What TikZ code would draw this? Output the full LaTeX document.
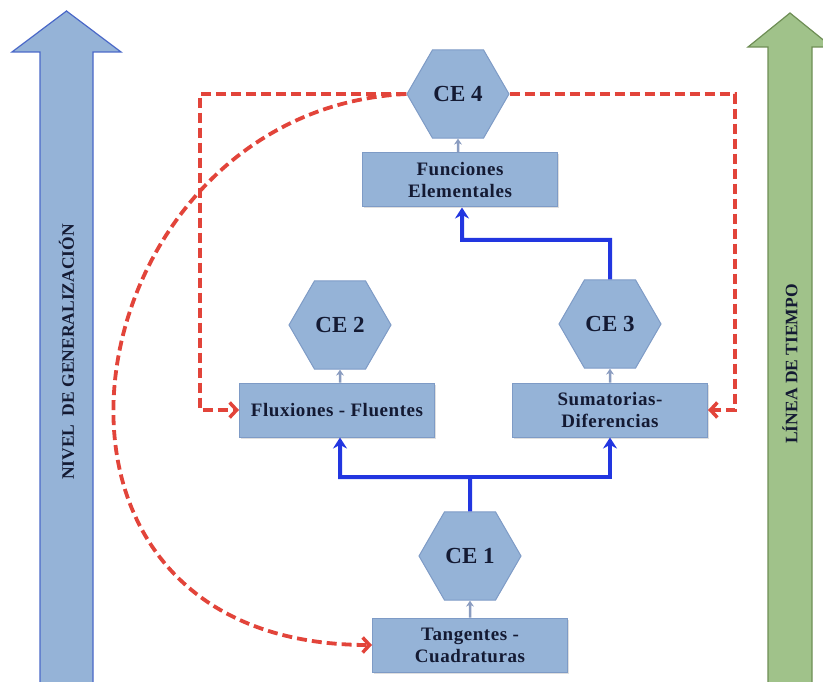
\documentclass[tikz,border=0pt]{standalone}
\usepackage{fontspec}
\setmainfont{Liberation Serif}
\newfontfamily\boxfont[LetterSpace=3]{Liberation Serif}
\usetikzlibrary{arrows.meta,shapes.geometric,calc,shadows}
\definecolor{boxfill}{HTML}{95B3D7}
\definecolor{boxline}{HTML}{7E9BC6}
\definecolor{conblue}{HTML}{2236E0}
\definecolor{conred}{HTML}{E2443A}
\definecolor{greyarrow}{HTML}{8A9CC0}
\definecolor{bigblue}{HTML}{95B3D7}
\definecolor{bigblueline}{HTML}{4A68C8}
\definecolor{biggreen}{HTML}{A0C28A}
\definecolor{biggreenline}{HTML}{6E8E55}
\definecolor{txt}{HTML}{141A33}
\begin{document}
\begin{tikzpicture}[x=1pt,y=-1pt,
  conbox/.style={draw=boxline, line width=1pt, fill=boxfill, minimum width=195pt, minimum height=54pt,
    inner sep=0pt, align=center, font=\boxfont\fontsize{19}{22}\selectfont\bfseries, text=txt,
    drop shadow={shadow xshift=1.5pt, shadow yshift=-1.5pt, opacity=0.25}},
  hexa/.style={regular polygon, regular polygon sides=6, minimum size=102pt, inner sep=0pt,
    draw=boxline, line width=1pt, fill=boxfill, font=\fontsize{23}{26}\selectfont\bfseries, text=txt},
  bl/.style={draw=conblue, line width=4pt, -{Stealth[length=11pt,width=14pt]}},
  rd/.style={draw=conred, line width=3.8pt, dash pattern=on 10pt off 5pt, -{Straight Barb[length=7pt,width=15pt,line width=3.5pt]}},
  gr/.style={draw=greyarrow, line width=2.5pt, -{Stealth[length=6pt,width=8pt]}},
  sidelbl/.style={rotate=90, font=\fontsize{17.5}{20}\selectfont\bfseries, text=txt, inner sep=0pt}
]
\clip (0,0) rectangle (823,682);

% side arrows
\fill[bigblue] (40,690) -- (40,52) -- (12,52) -- (66.5,11) -- (121,52) -- (93,52) -- (93,690) -- cycle;
\draw[bigblueline, line width=1.2pt, line join=miter] (40,690) -- (40,52) -- (12,52) -- (66.5,11) -- (121,52) -- (93,52) -- (93,690);
\fill[biggreen] (768,690) -- (768,47) -- (748,47) -- (790,13) -- (832,47) -- (812,47) -- (812,690) -- cycle;
\draw[biggreenline, line width=1.2pt] (768,690) -- (768,47) -- (748,47) -- (790,13) -- (832,47) -- (812,47) -- (812,690);
\node[sidelbl] (nivel) at (66.5,352) {NIVEL\hspace{4pt} DE GENERALIZACIÓN};
\node[sidelbl] (linea) at (790,364) {LÍNEA DE TIEMPO};

% nodes
\node[hexa] (CE4) at (458,94) {CE 4};
\node[conbox] (func) at (460,180) {Funciones\\Elementales};
\node[hexa] (CE2) at (340,325) {CE 2};
\node[conbox] (flux) at (337,410) {Fluxiones - Fluentes};
\node[hexa] (CE3) at (610,324) {CE 3};
\node[conbox] (sum) at (610,410) {Sumatorias-\\Diferencias};
\node[hexa] (CE1) at (470,556) {CE 1};
\node[conbox] (tang) at (470,645) {Tangentes -\\Cuadraturas};

% grey small arrows
\draw[gr] (func.north -| CE4) -- (CE4.south);
\draw[gr] (flux.north -| CE2) -- (CE2.south);
\draw[gr] (sum.north -| CE3) -- (CE3.south);
\draw[gr] (tang.north -| CE1) -- (CE1.south);

% blue connectors
\coordinate (j1) at (470,477);
\coordinate (j2) at (610,240);
\draw[bl] (CE1.north) -- (j1) -| (flux.south -| CE2);
\draw[bl] (j1) -| (sum.south);
\draw[bl] (CE3.north) -- (j2) -| ([xshift=2pt]func.south);

% red dashed connectors
\coordinate (cl) at (200,410);
\coordinate (cr) at (735,410);
\draw[rd] (CE4.west) -| (cl) -- (flux.west);
\draw[rd] (CE4.east) -| (cr) -- (sum.east);
\draw[rd] (CE4.west) .. controls (70,110) and (-20,645) .. (tang.west);
\end{tikzpicture}
\end{document}
